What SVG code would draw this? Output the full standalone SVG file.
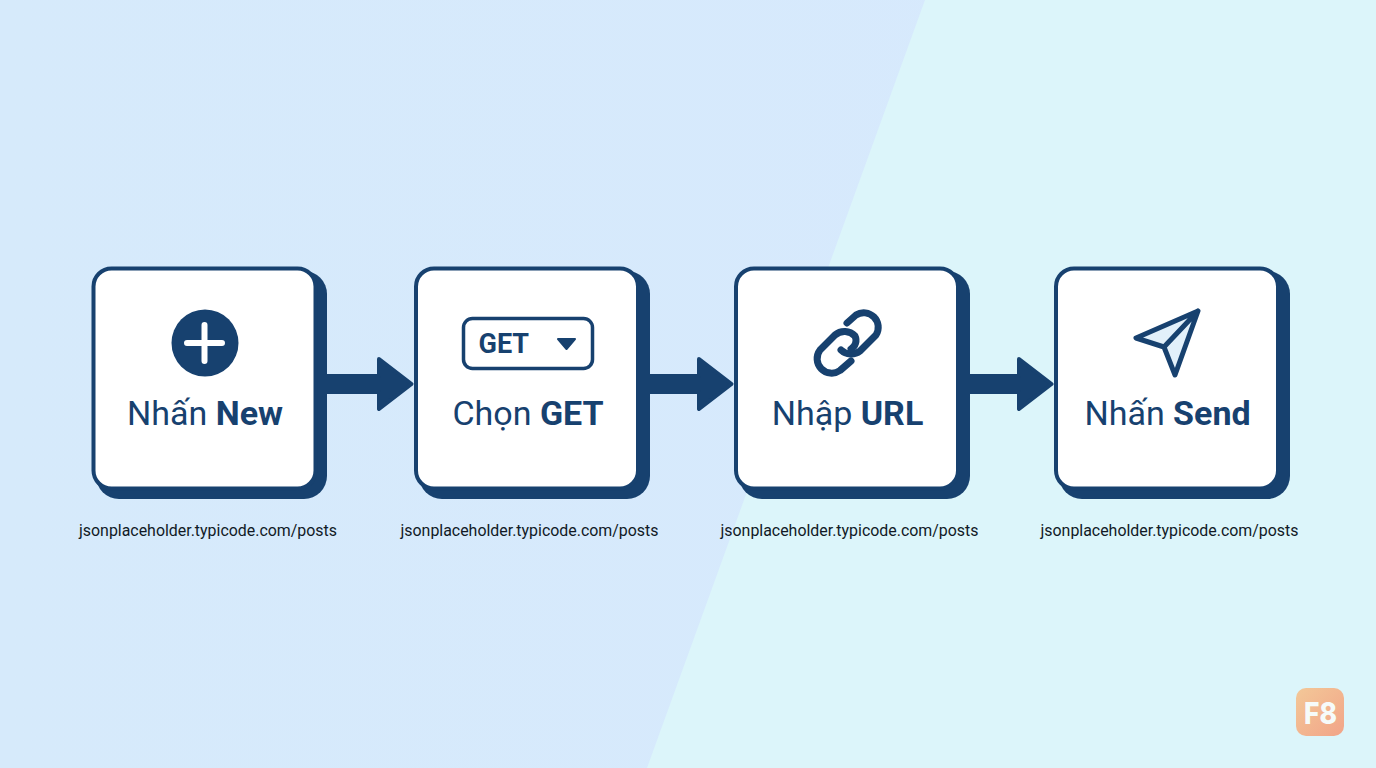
<svg xmlns="http://www.w3.org/2000/svg" width="1376" height="768" viewBox="0 0 1376 768">
<defs>
<linearGradient id="bgl" x1="0" y1="0" x2="1" y2="0"><stop offset="0" stop-color="#d6eafb"/><stop offset="1" stop-color="#d7e9fd"/></linearGradient>
<linearGradient id="f8" x1="0" y1="0" x2="1" y2="1"><stop offset="0" stop-color="#f3c898"/><stop offset="1" stop-color="#f2a488"/></linearGradient>
</defs>
<style>
.shadow{fill:#17416f}
.card{fill:#fff;stroke:#17416f;stroke-width:4}
.label{font-family:Roboto,"Noto Sans",sans-serif;font-size:34px;fill:#17416f;text-anchor:middle}
.label tspan{font-weight:700}
.url{font-family:Roboto,"Noto Sans",sans-serif;font-size:17px;fill:#111a26;text-anchor:middle}
.ic{fill:none;stroke:#17416f;stroke-linecap:round;stroke-linejoin:round}
</style>
<rect width="1376" height="768" fill="url(#bgl)"/>
<polygon points="925,0 1376,0 1376,768 647,768" fill="#dcf5fa"/>
<g id="connectors" fill="#17416f" stroke="#17416f" stroke-linejoin="round">
<path id="c1" stroke-width="4" d="M325 376H379V359L411.500 384L379 409V392H325Z"/>
<path id="c2" stroke-width="4" d="M648 376H699V359L731.500 384L699 409V392H648Z"/>
<path id="c3" stroke-width="4" d="M968 376H1019V359L1051.500 384L1019 409V392H968Z"/>
</g>
<g id="node1">
<rect class="shadow" x="96" y="271" width="231" height="228" rx="23"/>
<rect class="card" x="93.500" y="268.500" width="222" height="220" rx="18"/>
<circle cx="205" cy="343" r="33.500" fill="#17416f"/>
<path d="M187 343H222M204.500 325V361" fill="none" stroke="#fff" stroke-width="6" stroke-linecap="round"/>
<text class="label" x="205" y="425">Nhấn <tspan>New</tspan></text>
<text class="url" x="208" y="536" textLength="258" lengthAdjust="spacingAndGlyphs">jsonplaceholder.typicode.com/posts</text>
</g>
<g id="node2">
<rect class="shadow" x="419" y="271" width="231" height="228" rx="23"/>
<rect class="card" x="416" y="268.500" width="222" height="220" rx="18"/>
<rect x="463.500" y="318.500" width="129" height="50" rx="9" fill="#fff" stroke="#17416f" stroke-width="3.500"/>
<text x="478.500" y="353" font-family="Roboto,sans-serif" font-size="27" font-weight="700" fill="#17416f">GET</text>
<path d="M558 339H575L566.500 349Z" fill="#17416f" stroke="#17416f" stroke-width="2" stroke-linejoin="round"/>
<text class="label" x="528" y="425">Chọn <tspan>GET</tspan></text>
<text class="url" x="529.500" y="536" textLength="258" lengthAdjust="spacingAndGlyphs">jsonplaceholder.typicode.com/posts</text>
</g>
<g id="node3">
<rect class="shadow" x="739" y="271" width="231" height="228" rx="23"/>
<rect class="card" x="736" y="268.500" width="222" height="220" rx="18"/>
<path class="ic" stroke-width="7" stroke-linecap="butt" d="M847 323L856 315A14.500 14.500 0 0 1 876 335L860 351A14.500 14.500 0 0 1 841 350"/>
<path class="ic" stroke-width="7" stroke-linecap="butt" d="M851 361L840 370.500A14.500 14.500 0 0 1 820 350L835 335A14.500 14.500 0 0 1 855 336A10 10 0 0 1 851 349"/>
<text class="label" x="847.500" y="425">Nhập <tspan>URL</tspan></text>
<text class="url" x="849.500" y="536" textLength="258" lengthAdjust="spacingAndGlyphs">jsonplaceholder.typicode.com/posts</text>
</g>
<g id="node4">
<rect class="shadow" x="1059" y="271" width="231" height="228" rx="23"/>
<rect class="card" x="1056" y="268.500" width="222" height="220" rx="18"/>
<path d="M1198 311L1136 338L1164 347L1175 375Z" fill="#e2f0fa"/>
<path class="ic" stroke-width="5" d="M1198 311L1136 338L1164 347L1175 375ZM1198 311L1164 347"/>
<text class="label" x="1167.500" y="425">Nhấn <tspan>Send</tspan></text>
<text class="url" x="1169.500" y="536" textLength="258" lengthAdjust="spacingAndGlyphs">jsonplaceholder.typicode.com/posts</text>
</g>
<g id="logo">
<rect x="1296" y="688" width="48" height="48" rx="10" fill="url(#f8)"/>
<text x="1320.500" y="724" font-family="Inter,Roboto,sans-serif" font-size="30" font-weight="800" fill="#f6fbfa" text-anchor="middle" textLength="33" lengthAdjust="spacingAndGlyphs">F8</text>
</g>
</svg>
